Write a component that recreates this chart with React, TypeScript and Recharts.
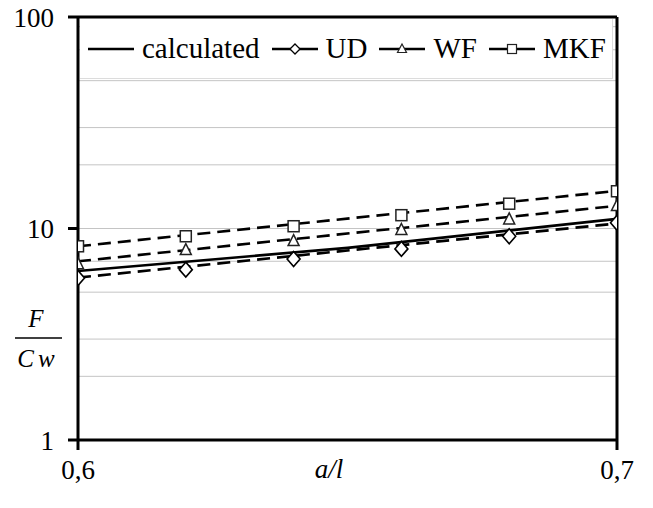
import React from 'react';
import {
  ComposedChart,
  Line,
  XAxis,
  YAxis,
  CartesianGrid,
  ReferenceLine,
  Legend,
  Customized,
} from 'recharts';

// ---- data ----
const markerX = [0.6, 0.62, 0.64, 0.66, 0.68, 0.7];
const udValues = [5.84, 6.39, 7.18, 8.01, 9.19, 10.64];
const wfValues = [6.82, 7.95, 8.77, 9.89, 11.1, 12.85];
const mkfValues = [8.24, 9.19, 10.25, 11.56, 13.1, 15.0];

const trendX = [0.6, 0.7];
const udTrend = [5.86, 10.56];
const wfTrend = [7.0, 12.8];
const mkfTrend = [8.24, 15.06];

const calcX = [0.6, 0.65, 0.7];
const calcValues = [6.3, 8.1, 11.1];

const yTicks = [1, 10, 100];
const xTicks = [0.6, 0.7];
const gridValues = [2, 3, 4, 5, 6, 7, 8, 9, 10, 20, 30, 40, 50, 60, 70, 80, 90];

const legendItems = [
  { name: 'calculated', marker: 'none' },
  { name: 'UD', marker: 'diamond' },
  { name: 'WF', marker: 'triangle' },
  { name: 'MKF', marker: 'square' },
];

const toRows = (xs: number[], ys: number[]) => xs.map((x, i) => ({ x, y: ys[i] }));

const udData = toRows(markerX, udValues);
const wfData = toRows(markerX, wfValues);
const mkfData = toRows(markerX, mkfValues);
const udTrendData = toRows(trendX, udTrend);
const wfTrendData = toRows(trendX, wfTrend);
const mkfTrendData = toRows(trendX, mkfTrend);
const calcData = toRows(calcX, calcValues);

const FONT = 'Liberation Serif';

const Diamond = (props: any) => {
  const { cx, cy, index } = props;
  if (cx == null || cy == null) return <g key={`d-${index}`} />;
  const w = 6.5, h = 7.5;
  return (
    <path
      key={`d-${index}`}
      d={`M${cx},${cy - h} L${cx + w},${cy} L${cx},${cy + h} L${cx - w},${cy} Z`}
      fill="#fff"
      stroke="#000"
      strokeWidth={1.6}
    />
  );
};

const Triangle = (props: any) => {
  const { cx, cy, index } = props;
  if (cx == null || cy == null) return <g key={`t-${index}`} />;
  const w = 5.5, h = 10;
  return (
    <path
      key={`t-${index}`}
      d={`M${cx},${cy - h / 2 - 1} L${cx + w},${cy + h / 2} L${cx - w},${cy + h / 2} Z`}
      fill="#fff"
      stroke="#222"
      strokeWidth={1.5}
    />
  );
};

const Square = (props: any) => {
  const { cx, cy, index } = props;
  if (cx == null || cy == null) return <g key={`s-${index}`} />;
  const s = 5.5;
  return (
    <rect
      key={`s-${index}`}
      x={cx - s}
      y={cy - s}
      width={2 * s}
      height={2 * s}
      fill="#fff"
      stroke="#222"
      strokeWidth={1.5}
    />
  );
};

const LegendSample = ({ marker }: { marker: string }) => (
  <svg width={46} height={20} style={{ display: 'block' }}>
    <line x1={0} y1={10} x2={46} y2={10} stroke="#000" strokeWidth={2.6} />
    {marker === 'diamond' && (
      <path d="M23,5 L28,10 L23,15 L18,10 Z" fill="#fff" stroke="#000" strokeWidth={1.3} />
    )}
    {marker === 'triangle' && (
      <path d="M23,5 L27.5,13.5 L18.5,13.5 Z" fill="#fff" stroke="#222" strokeWidth={1.2} />
    )}
    {marker === 'square' && (
      <rect x={18.5} y={5.5} width={9} height={9} fill="#fff" stroke="#222" strokeWidth={1.2} />
    )}
  </svg>
);

const LegendContent = () => (
  <div
    style={{
      width: 533,
      height: 60,
      background: '#fff',
      borderRight: '1px solid #dcdcdc',
      borderBottom: '1px solid #dcdcdc',
      boxSizing: 'border-box',
      display: 'flex',
      alignItems: 'center',
      paddingLeft: 8,
      fontFamily: FONT,
      fontSize: 29,
      color: '#000',
    }}
  >
    {legendItems.map((it) => (
      <div key={it.name} style={{ display: 'flex', alignItems: 'center', marginRight: 12 }}>
        <LegendSample marker={it.marker} />
        <span style={{ marginLeft: 8, lineHeight: '29px', fontFamily: FONT }}>{it.name}</span>
      </div>
    ))}
  </div>
);

const YLabel = () => (
  <g>
    <text x={36} y={327} textAnchor="middle" fontFamily={FONT} fontStyle="italic" fontSize={25} fill="#000">F</text>
    <line x1={15} y1={338} x2={62} y2={338} stroke="#000" strokeWidth={1.5} />
    <text x={38} y={367} textAnchor="middle" letterSpacing={4} fontFamily={FONT} fontStyle="italic" fontSize={25} fill="#000">Cw</text>
  </g>
);

const XLabel = () => (
  <text x={329} y={478} textAnchor="middle" fontFamily={FONT} fontStyle="italic" fontSize={27} fill="#000">a/l</text>
);

const tickStyle = { fontFamily: FONT, fontSize: 27, fill: '#000' };

export default function App() {
  return (
    <div style={{ position: 'absolute', left: 0, top: 0, width: 653, height: 508, background: '#fff', fontFamily: FONT }}>
      <ComposedChart
        width={653}
        height={508}
        margin={{ top: 17, right: 36, left: 0, bottom: 8 }}
        style={{ fontFamily: FONT }}
      >
        <CartesianGrid
          horizontal
          vertical={false}
          horizontalValues={gridValues}
          stroke="#c4c4c4"
          strokeWidth={1}
        />
        <XAxis
          dataKey="x"
          type="number"
          domain={[0.6, 0.7]}
          ticks={xTicks}
          allowDataOverflow
          height={60}
          tickSize={10}
          tickMargin={10}
          tickFormatter={(v: number) => v.toFixed(1).replace('.', ',')}
          tick={tickStyle}
          fontFamily={FONT}
          axisLine={{ stroke: '#000', strokeWidth: 3 }}
          tickLine={{ stroke: '#000', strokeWidth: 3 }}
        />
        <YAxis
          dataKey="y"
          type="number"
          scale="log"
          domain={[1, 100]}
          ticks={yTicks}
          allowDataOverflow
          width={78}
          tickSize={10}
          tickMargin={14}
          tick={tickStyle}
          fontFamily={FONT}
          axisLine={{ stroke: '#000', strokeWidth: 3 }}
          tickLine={{ stroke: '#000', strokeWidth: 3 }}
        />
        <ReferenceLine y={100} stroke="#000" strokeWidth={3} />
        <ReferenceLine x={0.7} stroke="#000" strokeWidth={3} />

        <Line data={udTrendData} dataKey="y" stroke="#000" strokeWidth={2.6} strokeDasharray="13 7" dot={false} isAnimationActive={false} legendType="none" />
        <Line data={wfTrendData} dataKey="y" stroke="#000" strokeWidth={2.6} strokeDasharray="13 7" dot={false} isAnimationActive={false} legendType="none" />
        <Line data={mkfTrendData} dataKey="y" stroke="#000" strokeWidth={2.6} strokeDasharray="13 7" dot={false} isAnimationActive={false} legendType="none" />
        <Line data={calcData} dataKey="y" name="calculated" stroke="#000" strokeWidth={2.6} dot={false} isAnimationActive={false} />

        <Line data={udData} dataKey="y" name="UD" stroke="none" dot={Diamond} activeDot={false} isAnimationActive={false} />
        <Line data={wfData} dataKey="y" name="WF" stroke="none" dot={Triangle} activeDot={false} isAnimationActive={false} />
        <Line data={mkfData} dataKey="y" name="MKF" stroke="none" dot={Square} activeDot={false} isAnimationActive={false} />

        <Legend
          layout="horizontal"
          verticalAlign="middle"
          align="center"
          wrapperStyle={{ left: 80, top: 19, width: 533, height: 60 }}
          content={LegendContent}
        />
        <Customized component={YLabel} />
        <Customized component={XLabel} />
      </ComposedChart>
    </div>
  );
}
